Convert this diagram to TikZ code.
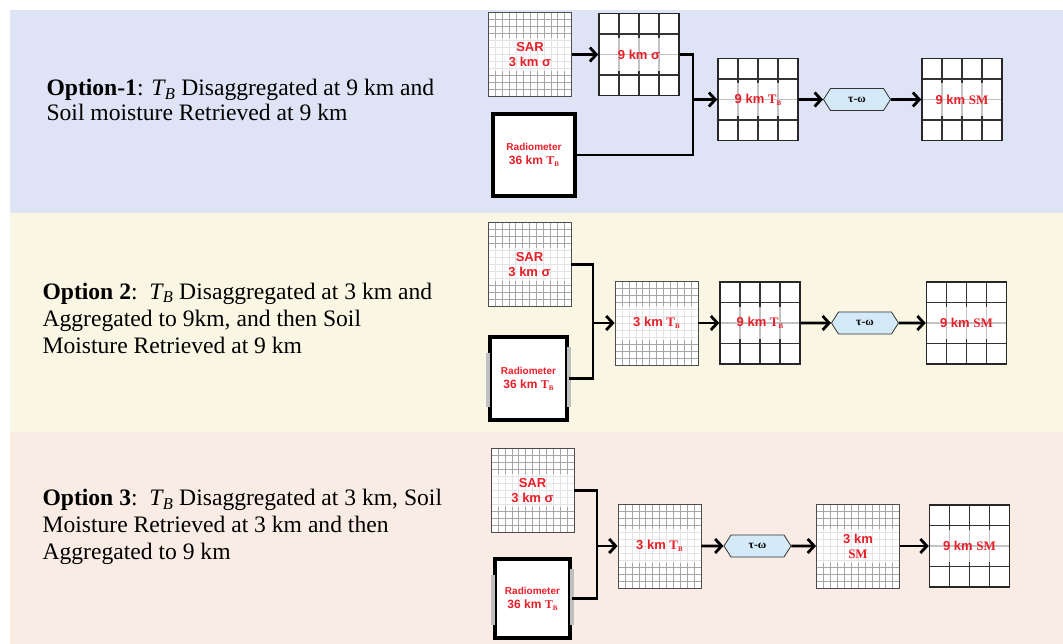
\documentclass[tikz,border=0pt]{standalone}
\usepackage{fontspec}
\setmainfont{Liberation Serif}
\setsansfont{Liberation Sans}
\usetikzlibrary{arrows.meta,calc,shapes.symbols}
\definecolor{pBlue}{RGB}{222,228,245}
\definecolor{pCream}{RGB}{249,247,228}
\definecolor{pPeach}{RGB}{249,236,228}
\definecolor{pRed}{RGB}{232,30,40}
\definecolor{pSky}{RGB}{212,234,248}
\newcommand{\TB}{\textit{T}\kern-.05em\textsubscript{\textit{B}}}
\newcommand{\tb}{{\rmfamily T\raisebox{-.4ex}{\scriptsize B}}}
\newcommand{\gridlines}[3]{%
  \pgfmathtruncatemacro\nlast{#1-1}%
  \foreach \k in {1,...,\nlast}{%
    \pgfmathsetmacro\f{\k/#1}%
    \draw[#2,line width=#3]
      ($(path picture bounding box.south west)!\f!(path picture bounding box.south east)$) --
      ($(path picture bounding box.north west)!\f!(path picture bounding box.north east)$);
    \draw[#2,line width=#3]
      ($(path picture bounding box.south west)!\f!(path picture bounding box.north west)$) --
      ($(path picture bounding box.south east)!\f!(path picture bounding box.north east)$);
  }%
  \fill[white,opacity=.7]
    ($(path picture bounding box.south west)!.3!(path picture bounding box.north west)$) rectangle
    ($(path picture bounding box.south east)!.7!(path picture bounding box.north east)$);
}
\tikzset{
    box/.style={fill=white, inner sep=0pt, align=center, text=pRed, font=\sffamily\bfseries\fontsize{13}{15}\selectfont},
    fine/.style={box, draw=black!70, line width=.8pt, minimum width=83pt, minimum height=84pt, path picture={\gridlines{12}{black!35}{.5pt}}},
    coarse/.style={box, draw=black!85, line width=1.5pt, minimum width=80pt, minimum height=82pt, path picture={\gridlines{4}{black!80}{1.4pt}}},
    radio/.style={box, draw, line width=4pt, font=\sffamily\bfseries\fontsize{12}{14}\selectfont},
    radgap/.style={black!25, line width=4pt},
    tau/.style={signal, signal to=west and east, signal pointer angle=115, draw=black!80, line width=.8pt, fill=pSky, minimum width=67pt, minimum height=22pt, inner sep=0pt, font=\rmfamily\bfseries\fontsize{11.5}{12}\selectfont},
    flow/.style={line width=2.8pt, -{Straight Barb[length=6.5pt,width=14pt]}},
    link/.style={line width=2.8pt},
    opt/.style={anchor=west, align=left, font=\fontsize{23.6}{27}\selectfont}
}

\begin{document}
\begin{tikzpicture}[x=1pt,y=-1pt]
\useasboundingbox (0,0) rectangle (1063,644);
\fill[pBlue]  (10,10)  rectangle (1063,213);
\fill[pCream] (10,213) rectangle (1063,432);
\fill[pPeach] (10,432) rectangle (1063,644);

% Option 1
\node[opt, font=\fontsize{23.6}{25}\selectfont] (opt1) at (43,100) {\textbf{Option-1}: \TB{} Disaggregated at 9 km and\\Soil moisture Retrieved at 9 km};
\node[fine]   (sar1) at (530,54.5) {SAR\\3 km σ};
\node[coarse] (sig1) at (639,54.5) {9 km σ};
\node[radio, minimum size=82pt] (rad1) at (534,155) {{\fontsize{10}{12}\selectfont Radiometer}\\36 km \tb};
\coordinate (m1) at (693,99.5);
\node[coarse] (tb1) at (758,99.5) {9 km \tb};
\node[tau]    (tw1) at (857,99.5) {τ-ω};
\node[coarse] (sm1) at (962,99.5) {9 km {\rmfamily SM}};
\draw[flow] (sar1) -- (sig1);
\draw[link] (sig1.east) -| (m1);
\draw[link] (rad1.east) -| (m1);
\draw[flow] (m1) -- (tb1);
\draw[flow] (tb1) -- (tw1);
\draw[flow] (tw1) -- (sm1);

% Option 2
\node[opt] (opt2) at (39,318) {\textbf{Option 2}:\ \ \TB{} Disaggregated at 3 km and\\Aggregated to 9km, and then Soil\\Moisture Retrieved at 9 km};
\node[fine] (sar2) at (529.5,264.5) {SAR\\3 km σ};
\node[radio, minimum width=77pt, minimum height=83pt] (rad2) at (528.5,378.5) {{\fontsize{10}{12}\selectfont Radiometer}\\36 km \tb};
\draw[radgap] ([yshift=-18pt]rad2.north west) -- ([yshift=15pt]rad2.south west);
\draw[radgap] ([yshift=-12pt]rad2.north east) -- ([yshift=15pt]rad2.south east);
\coordinate (m2) at (593,323);
\node[fine]   (tbf2) at (656.5,323) {3 km \tb};
\node[coarse] (tb2)  at (760,323) {9 km \tb};
\node[tau]    (tw2)  at (865,323) {τ-ω};
\node[coarse] (sm2)  at (966.5,323) {9 km {\rmfamily SM}};
\draw[link] (sar2.east) -| (m2);
\draw[link] (rad2.east) -| (m2);
\draw[flow] (m2) -- (tbf2);
\draw[flow] (tbf2) -- (tb2);
\draw[flow] (tb2) -- (tw2);
\draw[flow] (tw2) -- (sm2);

% Option 3
\node[opt] (opt3) at (39,527) {\textbf{Option 3}:\ \ \TB{} Disaggregated at 3 km, Soil\\Moisture Retrieved at 3 km and then\\Aggregated to 9 km};
\node[fine] (sar3) at (532.5,490.5) {SAR\\3 km σ};
\node[radio, minimum width=75pt, minimum height=79pt] (rad3) at (532.5,598.5) {{\fontsize{10}{12}\selectfont Radiometer}\\36 km \tb};
\draw[radgap] ([yshift=-18pt]rad3.north west) -- ([yshift=15pt]rad3.south west);
\draw[radgap] ([yshift=-12pt]rad3.north east) -- ([yshift=15pt]rad3.south east);
\coordinate (m3) at (597,546);
\node[fine]   (tbf3) at (659.5,546) {3 km \tb};
\node[tau]    (tw3)  at (757.5,546) {τ-ω};
\node[fine]   (smf3) at (858,546) {3 km\\{\rmfamily SM}};
\node[coarse] (sm3)  at (969.5,546) {9 km {\rmfamily SM}};
\draw[link] (sar3.east) -| (m3);
\draw[link] (rad3.east) -| (m3);
\draw[flow] (m3) -- (tbf3);
\draw[flow] (tbf3) -- (tw3);
\draw[flow] (tw3) -- (smf3);
\draw[flow] (smf3) -- (sm3);
\end{tikzpicture}
\end{document}
